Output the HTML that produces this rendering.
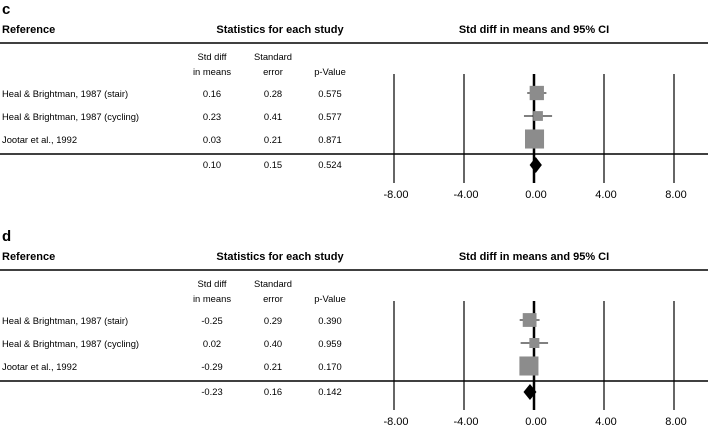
<!DOCTYPE html>
<html><head><meta charset="utf-8"><style>
body{margin:0;background:#fff}
svg{display:block;font-family:"Liberation Sans",Arial,sans-serif}
</style></head><body>
<svg id="s" width="708" height="425" viewBox="0 0 708 425"></svg>
<script>
const studies=["Heal & Brightman, 1987 (stair)","Heal & Brightman, 1987 (cycling)","Jootar et al., 1992"];
const panelLabels=["c","d"];
const meansC=[0.16,0.23,0.03];
const seC=[0.28,0.41,0.21];
const pC=["0.575","0.577","0.871"];
const summaryC=[0.10,0.15,"0.524"];
const meansD=[-0.25,0.02,-0.29];
const seD=[0.29,0.40,0.21];
const pD=["0.390","0.959","0.170"];
const summaryD=[-0.23,0.16,"0.142"];
const ticks=[-8,-4,0,4,8];
const tickLabels=["-8.00","-4.00","0.00","4.00","8.00"];
const NS="http://www.w3.org/2000/svg";
const svg=document.getElementById('s');
const xs=v=>534+v*17.5;
const FS=9.4;
function el(tag,attrs,parent){const e=document.createElementNS(NS,tag);for(const k in attrs)e.setAttribute(k,attrs[k]);(parent||svg).appendChild(e);return e;}
function txt(s,x,y,size,anchor,bold,parent){const t=el('text',{x:x,y:y,'font-size':size,'text-anchor':anchor||'start','font-weight':bold?'bold':'normal',fill:'#000'},parent);t.textContent=s;return t;}
function panel(oy,label,means,ses,ps,summ,nm){
  const g=el('g',{});
  
  
  const l=txt(label,2,oy+14,15,'start',true,g);
  
  
  const h1=txt("Reference",2,oy+33,11,'start',true,g);
  
  
  const h2=txt("Statistics for each study",280,oy+33,11,'middle',true,g);
  
  
  const h3=txt("Std diff in means and 95% CI",534,oy+33,11,'middle',true,g);
  
  
  el('line',{x1:0,x2:708,y1:oy+43,y2:oy+43,stroke:'#000','stroke-width':1.5},g);
  txt("Std diff",212,oy+60,FS,'middle',false,g);
  txt("in means",212,oy+75,FS,'middle',false,g);
  txt("Standard",273,oy+60,FS,'middle',false,g);
  txt("error",273,oy+75,FS,'middle',false,g);
  txt("p-Value",330,oy+75,FS,'middle',false,g);
  ticks.forEach((t,i)=>{
    const gl=el('line',{x1:xs(t),x2:xs(t),y1:oy+74,y2:oy+183,stroke:'#000','stroke-width':t===0?2.5:1.2},g);
    
    
    const tl=txt(tickLabels[i],xs(t)+2,oy+198,11,'middle',false,g);
    
    
  });
  el('line',{x1:0,x2:708,y1:oy+154,y2:oy+154,stroke:'#000','stroke-width':1.5},g);
  studies.forEach((s,i)=>{
    const y=oy+93+i*23;
    const n=txt(s,2,y+4,FS,'start',false,g);
    
    
    txt(means[i].toFixed(2),212,y+4,FS,'middle',false,g);
    txt(ses[i].toFixed(2),273,y+4,FS,'middle',false,g);
    txt(ps[i],330,y+4,FS,'middle',false,g);
    const lo=means[i]-1.96*ses[i],hi=means[i]+1.96*ses[i];
    const ci=el('line',{x1:xs(lo),x2:xs(hi),y1:y,y2:y,stroke:'#000','stroke-width':1},g);
    
    
    const sz=4/ses[i];
    const sq=el('rect',{x:xs(means[i])-sz/2,y:y-sz/2,width:sz,height:sz,fill:'#8c8c8c'},g);
    
    
  });
  const sy=oy+165;
  txt(summ[0].toFixed(2),212,sy+3,FS,'middle',false,g);
  txt(summ[1].toFixed(2),273,sy+3,FS,'middle',false,g);
  txt(summ[2],330,sy+3,FS,'middle',false,g);
  const lo=summ[0]-1.96*summ[1],hi=summ[0]+1.96*summ[1];
  const d=el('polygon',{points:`${xs(lo)-1},${sy} ${xs(summ[0])},${sy-8} ${xs(hi)+1},${sy} ${xs(summ[0])},${sy+8}`,fill:'#000'},g);
  
  
}
panel(0,panelLabels[0],meansC,seC,pC,summaryC,'c');
panel(227,panelLabels[1],meansD,seD,pD,summaryD,'d');
</script>
</body></html>
